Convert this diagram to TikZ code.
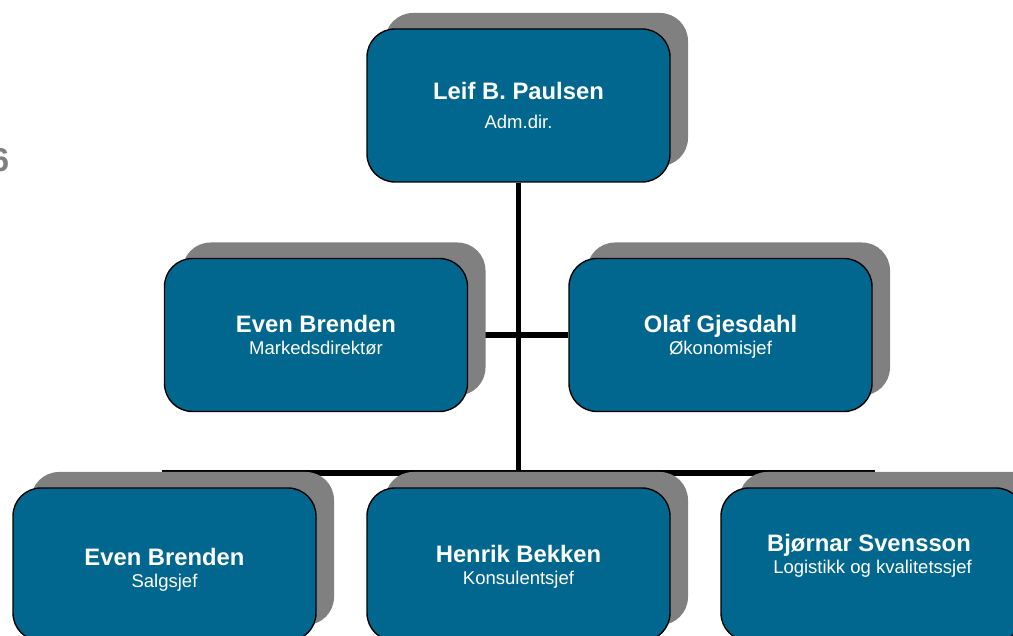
\documentclass[tikz,border=0pt]{standalone}
\usepackage{fontspec}
\setmainfont{Liberation Sans}
\usetikzlibrary{shadows,backgrounds}

\definecolor{orgblue}{RGB}{2,103,143}
\definecolor{skygge}{RGB}{128,128,128}

\tikzset{
  boks/.style={draw=black, line width=1.4pt, fill=orgblue, rounded corners=28pt,
    minimum width=303pt, minimum height=153pt, inner sep=0pt,
    drop shadow={shadow xshift=18pt, shadow yshift=16pt, fill=skygge, opacity=1}},
  navn/.style={text=white, font=\fontsize{23.8}{26}\selectfont\bfseries, anchor=base, inner sep=0pt},
  tittel/.style={text=white, font=\fontsize{18.5}{21}\selectfont, anchor=base, inner sep=0pt},
  linje/.style={line width=5.5pt}
}

\begin{document}
\begin{tikzpicture}[x=1pt, y=-1pt]
  \useasboundingbox (0,0) rectangle (1013,636);
  \clip (0,0) rectangle (1013,636);
  % Cut-off number at the left edge
  \node[anchor=base east, inner sep=0pt, text=skygge, font=\fontsize{33}{36}\selectfont\bfseries] (sidetall) at (9.5,172) {6};

  % Top box
  \node[boks] (leif) at (518.5,105.5) {};
  \node[navn] (leif-n) at (518.5,100) {Leif B. Paulsen};
  \node[tittel] (leif-t) at (518.5,129) {Adm.dir.};

  % Middle row
  \node[boks] (markeds) at (316,335) {};
  \node[navn] (markeds-n) at (316,333) {Even Brenden};
  \node[tittel] (markeds-t) at (316,355) {Markedsdirektør};
  \node[boks] (okonomi) at (720.5,335) {};
  \node[navn] (okonomi-n) at (720.5,333) {Olaf Gjesdahl};
  \node[tittel] (okonomi-t) at (720.5,355) {Økonomisjef};

  % Bottom row
  \node[boks] (salg) at (164.5,564.5) {};
  \node[navn] (salg-n) at (164.5,565) {Even Brenden};
  \node[tittel] (salg-t) at (164.5,587) {Salgsjef};
  \node[boks] (henrik) at (518.5,564.5) {};
  \node[navn] (henrik-n) at (518.5,562) {Henrik Bekken};
  \node[tittel] (henrik-t) at (518.5,584) {Konsulentsjef};
  \node[boks] (logistikk) at (872.5,564.5) {};
  \node[navn] (logistikk-n) at (869,551) {Bjørnar Svensson};
  \node[tittel] (logistikk-t) at (872.5,573) {Logistikk og kvalitetssjef};

  % Connectors behind the boxes
  \begin{scope}[on background layer]
    \coordinate (buss) at (518.5,473);
    \draw[linje] (leif.south) -- (buss);
    \draw[linje] (markeds.east) -- (okonomi.west);
    \draw[linje] (salg.north) |- (buss) -| (logistikk.north);
    \draw[linje] (henrik.north) -- (buss);
  \end{scope}
\end{tikzpicture}
\end{document}
